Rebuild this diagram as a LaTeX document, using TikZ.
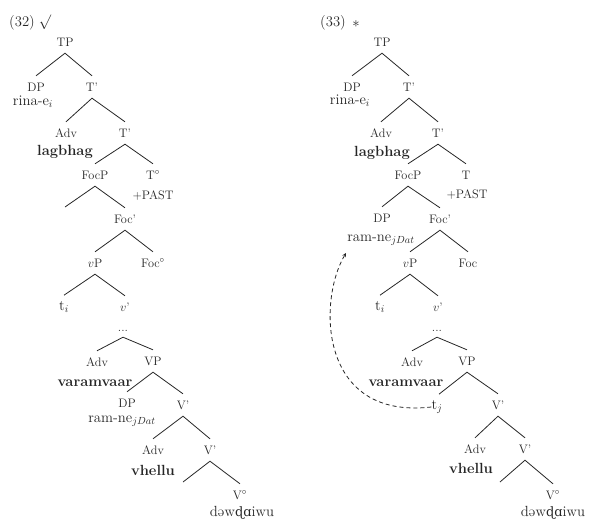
\documentclass[tikz,border=0pt]{standalone}
\usepackage{fix-cm}
\usepackage{fontspec}
\newfontfamily\ipafont{DejaVu Serif}[Scale=0.88]
\usetikzlibrary{calc}
\tikzset{
 cat/.style={font=\fontsize{12.3}{14}\selectfont, inner sep=0pt, minimum height=22pt, text=black!85},
 word/.style={font=\fontsize{14.7}{17}\selectfont, inner sep=0pt, text=black!85},
 wordb/.style={font=\fontsize{14.7}{17}\selectfont\bfseries, inner sep=0pt, text=black!85},
 br/.style={draw=black!85, line width=0.8pt},
 mv/.style={draw=black!85, line width=0.8pt, dash pattern=on 4pt off 3pt, -stealth},
}
\newcommand{\dwword}{də\kern0.3pt w{\ipafont ɖɑ}iwu}
\begin{document}
\begin{tikzpicture}[x=1pt,y=-1pt]
\useasboundingbox (0,0) rectangle (591,523);
% ---------- (32) ----------
\node[word] (n32) at (22,23) {(32)};
\node[word] (ok) at (45,22) {$\surd$};
\node[cat] (aTP) at (65,42) {TP};
\node[cat] (aDP) at (36,87) {DP};
\node[word] (arina) at (33,102) {rina-e$_i$};
\node[cat] (aT1) at (92,87) {T'};
\node[cat] (aAdv1) at (66,133) {Adv};
\node[wordb] (alag) at (65,152) {lagbhag};
\node[cat] (aT2) at (125,133) {T'};
\node[cat] (aFocP) at (95,175) {FocP};
\node[cat] (aT0) at (153,175) {T$^\circ$};
\node[cat] (apast) at (153,196) {+PAST};
\coordinate (ae1) at (65,207);
\node[cat] (aFoc1) at (125,219) {Foc'};
\node[cat] (avP) at (95,263) {$v$P};
\node[cat] (aFoc0) at (153,263) {Foc$^\circ$};
\node[word] (ati) at (64,307) {t$_i$};
\node[cat] (av1) at (125,307) {$v$'};
\node[cat, minimum height=12pt] (adots) at (123,331) {...};
\node[cat] (aAdv2) at (97,362) {Adv};
\node[cat] (aVP) at (153,361) {VP};
\node[wordb] (avar) at (95,383) {varamvaar};
\node[cat] (aDP2) at (127,403) {DP};
\node[cat] (aV1) at (183,405) {V'};
\node[word] (aram) at (122,421) {ram-ne$_{jDat}$};
\node[cat] (aAdv3) at (153,450) {Adv};
\node[cat] (aV2) at (210,450) {V'};
\node[wordb] (avhe) at (153,470) {vhellu};
\coordinate (ae2) at (183,482);
\node[cat] (aV0) at (240,495) {V$^\circ$};
\node[word] (adaw) at (242,513) {\dwword};
\draw[br] (aDP.north) -- (aTP.south) -- (aT1.north);
\draw[br] (aAdv1.north) -- (aT1.south) -- (aT2.north);
\draw[br] (aFocP.north) -- (aT2.south) -- (aT0.north);
\draw[br] (ae1) -- (aFocP.south) -- (aFoc1.north);
\draw[br] (avP.north) -- (aFoc1.south) -- (aFoc0.north);
\draw[br] (ati.north) ++(0,-6) -- (avP.south) -- (av1.north);
\draw[br] (aAdv2.north) -- (adots.south) -- (aVP.north);
\draw[br] (aDP2.north) -- (aVP.south) -- (aV1.north);
\draw[br] (aAdv3.north) -- (aV1.south) -- (aV2.north);
\draw[br] (ae2) -- (aV2.south) -- (aV0.north);
% ---------- (33) ----------
\node[word] (n33) at (333,23) {(33)};
\node[word] (bad) at (356,24) {$*$};
\node[cat] (bTP) at (382,42) {TP};
\node[cat] (bDP) at (352,87) {DP};
\node[word] (brina) at (350,101) {rina-e$_i$};
\node[cat] (bT1) at (409,87) {T'};
\node[cat] (bAdv1) at (381,133) {Adv};
\node[wordb] (blag) at (382,153) {lagbhag};
\node[cat] (bT2) at (438,133) {T'};
\node[cat] (bFocP) at (408,175) {FocP};
\node[cat] (bT0) at (466,175) {T};
\node[cat] (bpast) at (467,195) {+PAST};
\node[cat] (bDP2) at (382,218) {DP};
\node[cat] (bFoc1) at (440,219) {Foc'};
\node[word] (bram) at (381,240) {ram-ne$_{jDat}$};
\node[cat] (bvP) at (410,263) {$v$P};
\node[cat] (bFoc0) at (468,263) {Foc};
\node[word] (bti) at (380,307) {t$_i$};
\node[cat] (bv1) at (438,307) {$v$'};
\node[cat, minimum height=12pt] (bdots) at (437,331) {...};
\node[cat] (bAdv2) at (412,362) {Adv};
\node[cat] (bVP) at (467,361) {VP};
\node[wordb] (bvar) at (406,383) {varamvaar};
\node[word] (btj) at (437,407) {t$_j$};
\node[cat] (bV1) at (498,405) {V'};
\node[cat] (bAdv3) at (475,449) {Adv};
\node[cat] (bV2) at (525,449) {V'};
\node[wordb] (bvhe) at (471,468) {vhellu};
\coordinate (be3) at (500,482);
\node[cat] (bV0) at (553,495) {V$^\circ$};
\node[word] (bdaw) at (553,513) {\dwword};
\draw[br] (bDP.north) -- (bTP.south) -- (bT1.north);
\draw[br] (bAdv1.north) -- (bT1.south) -- (bT2.north);
\draw[br] (bFocP.north) -- (bT2.south) -- (bT0.north);
\draw[br] (bDP2.north) -- (bFocP.south) -- (bFoc1.north);
\draw[br] (bvP.north) -- (bFoc1.south) -- (bFoc0.north);
\draw[br] (bti.north) ++(0,-6) -- (bvP.south) -- (bv1.north);
\draw[br] (bAdv2.north) -- (bdots.south) -- (bVP.north);
\draw[br] (btj.north) ++(2,-6) -- (bVP.south) -- (bV1.north);
\draw[br] (bAdv3.north) -- (bV1.south) -- (bV2.north);
\draw[br] (be3) -- (bV2.south) -- (bV0.north);
\coordinate (tip) at (346,253);
\draw[mv] (btj.west) .. controls (318,420) and (318,300) .. (tip);
\end{tikzpicture}
\end{document}
